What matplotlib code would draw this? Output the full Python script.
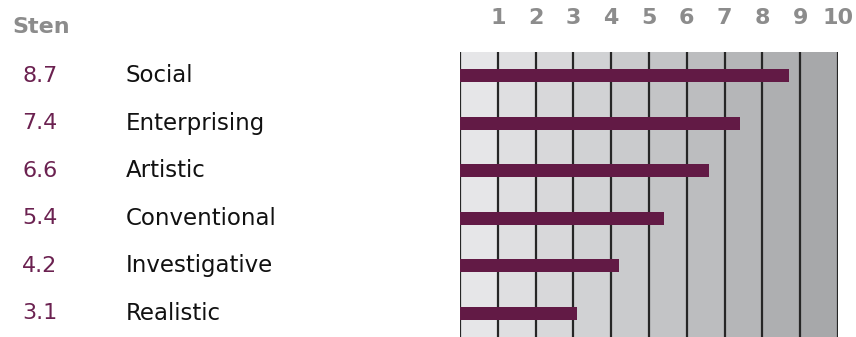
import matplotlib.pyplot as plt
import matplotlib.transforms as mtransforms

scales = ['Social', 'Enterprising', 'Artistic', 'Conventional', 'Investigative', 'Realistic']
sten = [8.7, 7.4, 6.6, 5.4, 4.2, 3.1]
tick_vals = list(range(1, 11))

bar_color = '#621a45'
value_color = '#6b2150'
header_gray = '#8c8c8c'
band_colors = ['#e6e6e8', '#dfdfe1', '#d8d8da', '#d1d2d4', '#cacbcd',
               '#c3c4c6', '#bcbdbf', '#b5b6b8', '#aeafb1', '#a7a8aa']

W, H = 856, 337
fig = plt.figure(figsize=(W / 100, H / 100), dpi=100)
ax = fig.add_axes([460 / W, 0, (838 - 460) / W, (337 - 52) / H])

# shaded column bands
for i, c in enumerate(band_colors):
    ax.axvspan(i, i + 1, color=c, lw=0, zorder=0)

# column dividers
ax.vlines(range(0, 11), -0.5, 5.5, color='#262626', lw=1.6, zorder=1)

y = list(range(len(scales)))
ax.barh(y, sten, height=0.27, color=bar_color, zorder=2)

ax.set_xlim(0, 10)
ax.set_ylim(5.5, -0.5)
for s in ax.spines.values():
    s.set_visible(False)
ax.set_yticks([])
ax.xaxis.tick_top()
ax.set_xticks(tick_vals)
ax.set_xticklabels([str(v) for v in tick_vals], fontsize=16, fontweight='bold',
                   color=header_gray)
ax.tick_params(axis='x', length=0, pad=17)

# left-side text columns
tr = mtransforms.blended_transform_factory(fig.transFigure, ax.transData)
for yi, v, name in zip(y, sten, scales):
    ax.text(22 / W, yi, f'{v:.1f}', transform=tr, fontsize=16, color=value_color,
            va='center', ha='left')
    ax.text(126 / W, yi, name, transform=tr, fontsize=16.5, color='#111111',
            va='center', ha='left')

fig.text(12 / W, 1 - 27 / H, 'Sten', fontsize=16, fontweight='bold',
         color=header_gray, va='center', ha='left')

fig.savefig('out.png', dpi=100, facecolor='white')
